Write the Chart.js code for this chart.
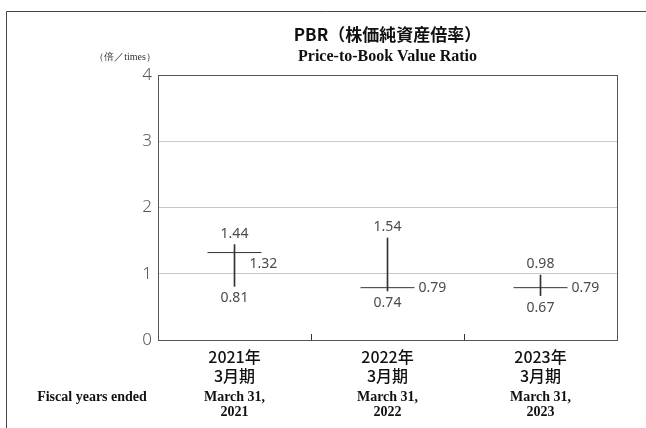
<!DOCTYPE html>
<html>
<head>
<meta charset="utf-8">
<script src="https://cdn.jsdelivr.net/npm/chart.js@4"></script>
<style>
  html, body { margin: 0; padding: 0; background: #fff; }
  #wrap { width: 646px; height: 428px; }
</style>
</head>
<body>
<div id="wrap"><canvas id="pbrChart" width="646" height="428"></canvas></div>
<script>
// PBR data (fiscal years ended March 31)
const yearsJa = ['2021年', '2022年', '2023年'];
const yearsEn = ['2021', '2022', '2023'];
const highs = [1.44, 1.54, 0.98];
const lows = [0.81, 0.74, 0.67];
const closes = [1.32, 0.79, 0.79];
const yTicks = [0, 1, 2, 3, 4];

// where the year-end label sits relative to its mark
const closeLabelSide = ['belowRight', 'right', 'right'];

const ink = '#333';
const jaFont = '"Noto Sans CJK JP", "Noto Sans", sans-serif';
const serif = '"Liberation Serif", "DejaVu Serif", serif';

const decorPlugin = {
  id: 'decor',
  afterDraw(chart) {
    const ctx = chart.ctx;
    const area = chart.chartArea;
    const x = chart.scales.x;
    const y = chart.scales.y;
    ctx.save();

    // outer frame (top and left edges)
    ctx.strokeStyle = '#444';
    ctx.lineWidth = 1;
    ctx.beginPath();
    ctx.moveTo(6.5, 428);
    ctx.lineTo(6.5, 11.5);
    ctx.lineTo(646, 11.5);
    ctx.stroke();

    // plot border
    ctx.strokeStyle = '#555';
    ctx.strokeRect(Math.round(area.left) + 0.5, Math.round(area.top) + 0.5,
      Math.round(area.right - area.left), Math.round(area.bottom - area.top));

    // small inner ticks between categories
    ctx.strokeStyle = ink;
    ctx.beginPath();
    for (let i = 0; i < yearsJa.length - 1; i++) {
      const bx = Math.round((x.getPixelForValue(i) + x.getPixelForValue(i + 1)) / 2) + 0.5;
      ctx.moveTo(bx, area.bottom);
      ctx.lineTo(bx, area.bottom - 6);
    }
    ctx.stroke();

    // titles
    const cx = (area.left + area.right) / 2;
    ctx.fillStyle = '#111';
    ctx.textAlign = 'center';
    ctx.textBaseline = 'middle';
    ctx.font = 'bold 17px ' + jaFont;
    ctx.fillText('PBR（株価純資産倍率）', cx, 35);
    ctx.font = 'bold 16px ' + serif;
    ctx.fillText('Price-to-Book Value Ratio', cx, 57);

    // unit label
    ctx.fillStyle = '#333';
    ctx.font = '10px ' + serif;
    ctx.fillText('（倍／times）', 125, 57);

    // category labels
    ctx.fillStyle = '#111';
    yearsJa.forEach((label, i) => {
      const px = x.getPixelForValue(i);
      ctx.font = '500 16px ' + jaFont;
      ctx.fillText(label, px, 357);
      ctx.fillText('3月期', px, 376);
      ctx.font = 'bold 14px ' + serif;
      ctx.fillText('March 31,', px, 397);
      ctx.fillText(yearsEn[i], px, 412);
    });
    ctx.font = 'bold 14px ' + serif;
    ctx.fillText('Fiscal years ended', 92, 397);

    // value labels
    ctx.fillStyle = '#4a4a4a';
    ctx.font = '14px "Noto Sans", sans-serif';
    highs.forEach((h, i) => {
      const px = x.getPixelForValue(i);
      ctx.textAlign = 'center';
      ctx.fillText(h.toFixed(2), px, y.getPixelForValue(h) - 11);
      ctx.fillText(lows[i].toFixed(2), px, y.getPixelForValue(lows[i]) + 12);
      const cy = y.getPixelForValue(closes[i]);
      ctx.textAlign = 'left';
      if (closeLabelSide[i] === 'belowRight') {
        ctx.fillText(closes[i].toFixed(2), px + 15, cy + 11);
      } else {
        ctx.fillText(closes[i].toFixed(2), px + 31, cy);
      }
    });

    ctx.restore();
  }
};

const ctx = document.getElementById('pbrChart').getContext('2d');
new Chart(ctx, {
  type: 'bar',
  data: {
    labels: yearsJa,
    datasets: [
      {
        label: 'High-Low',
        data: lows.map((l, i) => [l, highs[i]]),
        backgroundColor: ink,
        barThickness: 1,
        borderWidth: 0
      },
      {
        type: 'line',
        label: 'Year-end',
        data: closes,
        showLine: false,
        pointStyle: 'line',
        pointRadius: 27,
        pointHoverRadius: 27,
        pointBorderColor: ink,
        pointBorderWidth: 1,
        borderColor: ink
      }
    ]
  },
  options: {
    responsive: false,
    animation: false,
    events: [],
    layout: { padding: { top: 75, right: 29, left: 0, bottom: 0 } },
    plugins: {
      legend: { display: false },
      tooltip: { enabled: false },
      title: { display: false }
    },
    scales: {
      x: {
        grid: { display: false },
        border: { display: false },
        ticks: { display: false },
        afterFit: s => { s.height = 88; }
      },
      y: {
        min: 0,
        max: 4,
        afterBuildTicks: s => { s.ticks = yTicks.map(v => ({ value: v })); },
        ticks: {
          color: '#555',
          font: { family: '"Noto Sans", sans-serif', size: 17, weight: '300' },
          padding: 6
        },
        grid: { color: '#c8c8c8', drawTicks: false },
        border: { display: false },
        afterFit: s => { s.width = 158; }
      }
    }
  },
  plugins: [decorPlugin]
});
</script>
</body>
</html>
